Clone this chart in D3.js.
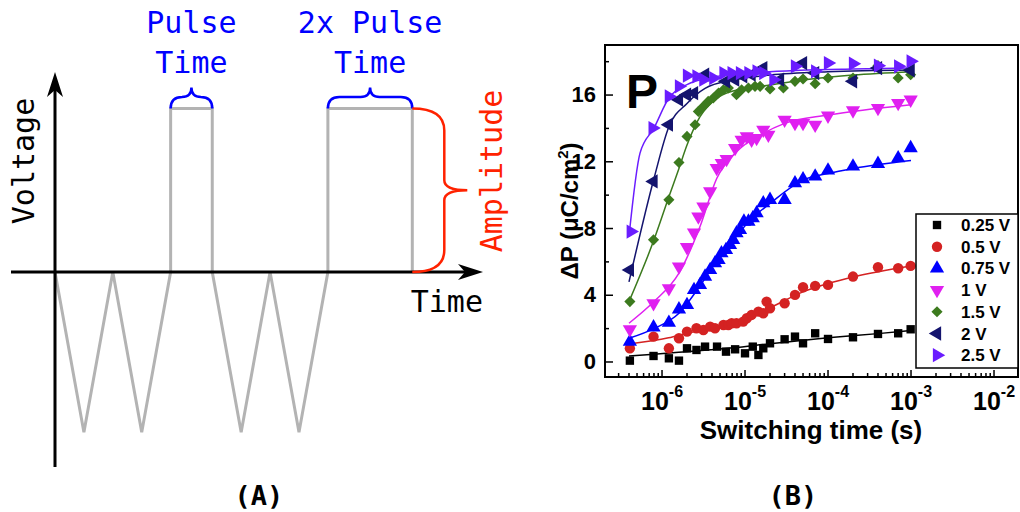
<!DOCTYPE html>
<html>
<head>
<meta charset="utf-8">
<script src="https://cdn.jsdelivr.net/npm/d3@7"></script>
<style>
body { margin:0; background:#fff }
svg { display:block }
</style>
</head>
<body>
<svg width="1020" height="512"></svg>
<script>
// panel A : the pulse train, abstract time units
var waveT = [0, 1, 2, 3, 4, 4, 5.44, 5.44, 6.44, 7.44, 8.44, 9.44, 9.44, 12.36, 12.36]
var waveV = [0, -0.98, 0, -0.98, 0, 1, 1, 0, -0.98, 0, -0.98, 0, 1, 1, 0]
var pulseSpans = [[4, 5.44], [9.44, 12.36]]
var pulseLabels = [["Pulse", "Time"], ["2x Pulse", "Time"]]

// panel B : switched polarization vs pulse time
var seriesNames = ["0.25 V", "0.5 V", "0.75 V", "1 V", "1.5 V", "2 V", "2.5 V"]
var xTickExps = [-6, -5, -4, -3, -2]
var yTicks = [0, 4, 8, 12, 16]
var yMinor = [2, 6, 10, 14, 18]

var pts025 = [[4.1e-7,0.08],[7.9e-7,0.36],[1.21e-6,0.22],[1.6e-6,0.08],[2.0e-6,0.82],[2.6e-6,0.72],[3.3e-6,0.92],[4.6e-6,0.92],[5.9e-6,0.62],[7.6e-6,0.76],[1.0e-5,0.52],[1.24e-5,0.92],[1.45e-5,0.42],[1.66e-5,0.82],[2.0e-5,1.12],[3.0e-5,1.36],[4.0e-5,1.52],[5.0e-5,1.12],[7.0e-5,1.72],[1.0e-4,1.38],[2.0e-4,1.48],[4.0e-4,1.68],[7.0e-4,1.72],[9.9e-4,1.96]]
var pts05 = [[4.1e-7,0.82],[7.9e-7,1.52],[1.21e-6,0.82],[1.6e-6,1.42],[2.0e-6,1.82],[2.6e-6,2.02],[3.15e-6,1.92],[3.8e-6,2.12],[4.35e-6,2.02],[5.5e-6,2.22],[6.3e-6,2.22],[6.9e-6,2.32],[7.9e-6,2.32],[9.5e-6,2.42],[1.05e-5,2.62],[1.2e-5,2.82],[1.45e-5,3.02],[1.66e-5,2.92],[1.82e-5,3.62],[2.0e-5,3.22],[3.0e-5,3.52],[4.0e-5,4.02],[5.0e-5,4.48],[7.0e-5,4.56],[1.0e-4,4.62],[2.0e-4,5.12],[4.0e-4,5.68],[7.0e-4,5.62],[9.9e-4,5.76]]
var pts075 = [[4.1e-7,1.22],[7.9e-7,2.08],[1.21e-6,2.36],[1.6e-6,3.16],[2.0e-6,3.42],[2.43e-6,4.32],[2.87e-6,4.62],[3.3e-6,5.12],[3.8e-6,5.52],[4.35e-6,5.92],[4.8e-6,6.12],[5.2e-6,6.52],[5.9e-6,6.72],[6.6e-6,7.02],[7.2e-6,7.32],[7.9e-6,7.72],[8.7e-6,7.92],[9.7e-6,8.42],[1.1e-5,8.42],[1.24e-5,8.62],[1.38e-5,8.92],[1.66e-5,9.52],[2.0e-5,9.72],[3.0e-5,9.72],[4.0e-5,10.72],[5.0e-5,10.96],[7.0e-5,11.12],[1.0e-4,11.48],[2.0e-4,11.72],[4.0e-4,11.88],[7.0e-4,12.22],[9.9e-4,12.82]]
var pts1 = [[4.1e-7,1.96],[7.9e-7,3.52],[1.21e-6,4.42],[1.6e-6,5.72],[2.0e-6,6.88],[2.43e-6,7.76],[2.74e-6,8.72],[3.15e-6,9.32],[3.8e-6,10.22],[4.56e-6,11.62],[5.24e-6,11.92],[6.0e-6,12.16],[7.6e-6,12.82],[9.1e-6,13.32],[1.05e-5,13.52],[1.2e-5,13.32],[1.38e-5,13.42],[1.66e-5,13.92],[1.91e-5,13.62],[3.0e-5,14.52],[4.0e-5,14.32],[5.0e-5,14.32],[7.0e-5,14.22],[1.0e-4,14.76],[2.0e-4,15.08],[4.0e-4,15.22],[7.0e-4,15.52],[9.9e-4,15.72]]
var pts15 = [[4.1e-7,3.62],[7.9e-7,7.32],[1.21e-6,9.72],[1.6e-6,11.96],[2.0e-6,13.52],[2.5e-6,14.22],[2.74e-6,15.02],[3.15e-6,15.32],[3.6e-6,15.62],[4.15e-6,15.82],[4.8e-6,16.12],[5.5e-6,16.32],[6.3e-6,16.42],[7.9e-6,16.02],[9.1e-6,16.32],[1.1e-5,16.42],[1.32e-5,16.52],[1.52e-5,16.52],[2.0e-5,16.36],[2.9e-5,16.42],[4.0e-5,16.82],[5.0e-5,16.96],[7.0e-5,16.68],[1.0e-4,17.02],[2.0e-4,17.02],[4.0e-4,17.76],[7.0e-4,17.02],[9.9e-4,17.22]]
var pts2 = [[4.1e-7,5.52],[7.9e-7,10.82],[1.21e-6,14.22],[1.6e-6,15.72],[2.0e-6,16.02],[2.43e-6,16.12],[3.3e-6,17.22],[5.9e-6,16.82],[7.6e-6,16.92],[9.5e-6,17.12],[1.2e-5,17.22],[1.66e-5,17.62],[2.64e-5,16.92],[5.0e-5,17.92],[7.0e-5,17.32],[2.0e-4,16.82],[4.0e-4,17.62],[9.9e-4,17.48]]
var pts25 = [[4.2e-7,7.82],[7.7e-7,14.02],[1.21e-6,15.92],[1.6e-6,16.52],[2.0e-6,17.16],[2.6e-6,17.12],[3.15e-6,16.92],[4.15e-6,17.02],[5.5e-6,17.32],[6.9e-6,17.32],[8.7e-6,17.32],[1.1e-5,17.32],[1.38e-5,17.42],[1.66e-5,17.32],[2.2e-5,16.92],[4.0e-5,17.72],[7.0e-5,17.42],[1.0e-4,17.92],[2.0e-4,17.88],[4.0e-4,17.76],[7.0e-4,17.72],[9.9e-4,18.02]]

var fit025 = [[4.0e-7,0.36],[8e-7,0.46],[2e-6,0.62],[7.2e-6,0.85],[2e-5,1.1],[1e-4,1.45],[4e-4,1.7],[1e-3,1.88]]
var fit05 = [[4.0e-7,1.08],[1.2e-6,1.45],[2e-6,1.72],[7.2e-6,2.32],[2e-5,3.25],[5e-5,4.2],[1e-4,4.7],[2e-4,5.1],[1e-3,5.76]]
var fit075 = [[4.0e-7,1.42],[8e-7,2.0],[1.6e-6,2.92],[2.9e-6,4.6],[4.6e-6,6.1],[7.2e-6,7.3],[1.15e-5,8.5],[2e-5,9.5],[5e-5,10.9],[1e-4,11.3],[2e-4,11.6],[1e-3,12.08]]
var fit1 = [[4.0e-7,2.32],[8e-7,3.62],[1.6e-6,5.32],[2.87e-6,8.12],[4.56e-6,11.0],[7.9e-6,12.6],[1.66e-5,13.7],[3e-5,14.3],[1e-4,14.8],[1e-3,15.42]]
var fit15 = [[4.0e-7,3.62],[8e-7,7.32],[1.21e-6,9.9],[1.6e-6,11.6],[2e-6,13.0],[2.87e-6,14.7],[4.56e-6,15.8],[7.94e-6,16.3],[2e-5,16.6],[5e-5,16.9],[2e-4,17.2],[1e-3,17.4]]
var fit2 = [[4.0e-7,4.8],[8e-7,11.0],[1.21e-6,14.1],[2e-6,15.5],[3.3e-6,16.4],[7.2e-6,16.9],[2e-5,17.2],[1e-4,17.4],[1e-3,17.5]]
var fit25 = [[4.0e-7,7.52],[5.43e-7,12.52],[8e-7,14.02],[1.21e-6,15.82],[2e-6,16.62],[4.15e-6,17.08],[1.15e-5,17.32],[4.6e-5,17.48],[2e-4,17.56],[1e-3,17.62]]

var allPts = [pts025, pts05, pts075, pts1, pts15, pts2, pts25]
var allFits = [fit025, fit05, fit075, fit1, fit15, fit2, fit25]

// styles
var colors = ["#000000", "#d42222", "#0000ff", "#e020f0", "#3c7a1e", "#14146e", "#6a1cff"]
var shapes = ["square", "circle", "up", "down", "diamond", "left", "right"]

var svg = d3.select("svg")
var mono = "'DejaVu Sans Mono', monospace"
var sans = "'Liberation Sans', Arial, sans-serif"

// ================= panel A
var xA = d3.scaleLinear().domain([0, 12.36]).range([55, 412.3])
var yA = d3.scaleLinear().domain([-1, 1]).range([435.5, 108.5])
var gA = svg.append("g")

gA.append("path")
    .attr("d", d3.line().x(function(d, i) { return xA(d) }).y(function(d, i) { return yA(waveV[i]) })(waveT))
    .attr("fill", "none").attr("stroke", "#b3b3b3").attr("stroke-width", 3)

// axes with arrow heads
gA.append("line").attr("x1", 11).attr("y1", yA(0)).attr("x2", 476).attr("y2", yA(0))
    .attr("stroke", "#000").attr("stroke-width", 3)
gA.append("line").attr("x1", xA(0)).attr("y1", 467).attr("x2", xA(0)).attr("y2", 80)
    .attr("stroke", "#000").attr("stroke-width", 3)
gA.append("path").attr("d", "M483," + yA(0) + " L458," + (yA(0) - 8) + " L465," + yA(0) + " L458," + (yA(0) + 8) + " Z")
gA.append("path").attr("d", "M" + xA(0) + ",72 L" + (xA(0) - 8) + ",97 L" + xA(0) + ",90 L" + (xA(0) + 8) + ",97 Z")

function hBrace(xa, xb, y0, d1, d2) {
    var m = (xa + xb) / 2, yb = y0 - d1, yt = y0 - d2, r = d2 - d1
    return "M" + xa + "," + y0 + " Q" + xa + "," + yb + " " + (xa + d1) + "," + yb +
        " L" + (m - r) + "," + yb + " Q" + m + "," + yb + " " + m + "," + yt +
        " Q" + m + "," + yb + " " + (m + r) + "," + yb +
        " L" + (xb - d1) + "," + yb + " Q" + xb + "," + yb + " " + xb + "," + y0
}
function vBrace(x0, ya, yb, d1, d2, r1, r2) {
    var m = (ya + yb) / 2, xa = x0 + d1
    return "M" + x0 + "," + ya + " Q" + xa + "," + ya + " " + xa + "," + (ya + r1) +
        " L" + xa + "," + (m - r2) + " Q" + xa + "," + m + " " + (x0 + d2) + "," + m +
        " Q" + xa + "," + m + " " + xa + "," + (m + r2) +
        " L" + xa + "," + (yb - r1) + " Q" + xa + "," + yb + " " + x0 + "," + yb
}

pulseSpans.forEach(function(s, i) {
    gA.append("path").attr("d", hBrace(xA(s[0]), xA(s[1]), yA(1), 11.5, 21))
        .attr("fill", "none").attr("stroke", "#0000ff").attr("stroke-width", 2.5)
    var cx = (xA(s[0]) + xA(s[1])) / 2
    pulseLabels[i].forEach(function(t, j) {
        gA.append("text").attr("x", cx).attr("y", 33 + j * 39.5)
            .attr("text-anchor", "middle").attr("font-family", mono).attr("font-size", 30)
            .attr("fill", "#0000ff").text(t)
    })
})
var lastSpan = pulseSpans[pulseSpans.length - 1]
gA.append("path").attr("d", vBrace(xA(lastSpan[1]), yA(1), yA(0), 32, 55, 22, 10))
    .attr("fill", "none").attr("stroke", "#ff2200").attr("stroke-width", 2.5)

gA.append("text").attr("transform", "translate(34,161) rotate(-90)")
    .attr("text-anchor", "middle").attr("font-family", mono).attr("font-size", 30).text("Voltage")
gA.append("text").attr("transform", "translate(502,171) rotate(-90)")
    .attr("text-anchor", "middle").attr("font-family", mono).attr("font-size", 30)
    .attr("fill", "#ff2200").text("Amplitude")
gA.append("text").attr("x", 483).attr("y", 312).attr("text-anchor", "end")
    .attr("font-family", mono).attr("font-size", 30).text("Time")
gA.append("text").attr("x", 259).attr("y", 505).attr("text-anchor", "middle")
    .attr("font-family", mono).attr("font-weight", "bold").attr("font-size", 27).text("(A)")

// ================= panel B
var L = 605, R = 1018, T = 45, B = 377
var x = d3.scaleLog().domain([Math.pow(10, -6.687), Math.pow(10, -1.711)]).range([L, R])
var y = d3.scaleLinear().domain([-0.9, 19]).range([B, T])
var gB = svg.append("g")

// inward ticks on left and bottom
var minorX = []
for (var e = -7; e <= -2; e++) for (var k = 1; k <= 9; k++) {
    var v = k * Math.pow(10, e)
    if (x(v) > L + 1 && x(v) < R - 1) minorX.push({ v: v, major: k == 1 })
}
minorX.forEach(function(t) {
    gB.append("line").attr("x1", x(t.v)).attr("x2", x(t.v))
        .attr("y1", B).attr("y2", B - (t.major ? 7 : 4)).attr("stroke", "#000").attr("stroke-width", 1.5)
})
yTicks.concat(yMinor).forEach(function(t) {
    var major = yTicks.indexOf(t) >= 0
    gB.append("line").attr("x1", L).attr("x2", L + (major ? 8 : 4))
        .attr("y1", y(t)).attr("y2", y(t)).attr("stroke", "#000").attr("stroke-width", 1.5)
})
yTicks.forEach(function(t) {
    gB.append("text").attr("x", L - 9).attr("y", y(t) + 7).attr("text-anchor", "end")
        .attr("font-family", sans).attr("font-weight", "bold").attr("font-size", 22).text(t)
})
xTickExps.forEach(function(ex) {
    var tx = gB.append("text").attr("x", x(Math.pow(10, ex))).attr("y", 410)
        .attr("text-anchor", "middle").attr("font-family", sans).attr("font-weight", "bold").attr("font-size", 25)
    tx.append("tspan").text("10")
    tx.append("tspan").attr("dy", -13).attr("font-size", 16).text(ex)
})

// fit lines and markers
var line = d3.line().x(function(d) { return x(d[0]) }).y(function(d) { return y(d[1]) }).curve(d3.curveMonotoneX)

function symbolPath(shape) {
    if (shape == "square") return d3.symbol().type(d3.symbolSquare).size(70)()
    if (shape == "circle") return d3.symbol().type(d3.symbolCircle).size(85)()
    if (shape == "diamond") return d3.symbol().type(d3.symbolSquare).size(62)()
    return d3.symbol().type(d3.symbolTriangle).size(88)()
}
var rot = { square: 0, circle: 0, diamond: 45, up: 0, down: 180, left: -90, right: 90 }

allFits.forEach(function(f, i) {
    gB.append("path").attr("d", line(f)).attr("fill", "none")
        .attr("stroke", colors[i]).attr("stroke-width", 1.5)
})
allPts.forEach(function(p, i) {
    gB.selectAll(null).data(p).enter().append("path")
        .attr("d", symbolPath(shapes[i]))
        .attr("transform", function(d) { return "translate(" + x(d[0]) + "," + y(d[1]) + ") rotate(" + rot[shapes[i]] + ")" })
        .attr("fill", colors[i])
})

// frame
gB.append("rect").attr("x", L).attr("y", T).attr("width", R - L).attr("height", B - T)
    .attr("fill", "none").attr("stroke", "#000").attr("stroke-width", 2)

// legend
var lg = gB.append("g")
lg.append("rect").attr("x", 916).attr("y", 214).attr("width", R - 916).attr("height", 154)
    .attr("fill", "#fff").attr("stroke", "#000").attr("stroke-width", 1.5)
seriesNames.forEach(function(n, i) {
    var ly = 225 + i * 21.7
    lg.append("path").attr("d", symbolPath(shapes[i]))
        .attr("transform", "translate(937," + ly + ") rotate(" + rot[shapes[i]] + ")").attr("fill", colors[i])
    lg.append("text").attr("x", 961).attr("y", ly + 6).attr("font-family", sans)
        .attr("font-weight", "bold").attr("font-size", 17).text(n)
})

gB.append("text").attr("x", 626).attr("y", 108).attr("font-family", sans)
    .attr("font-weight", "bold").attr("font-size", 48).text("P")

gB.append("text").attr("x", 811).attr("y", 439).attr("text-anchor", "middle")
    .attr("font-family", sans).attr("font-weight", "bold").attr("font-size", 26).text("Switching time (s)")

var yt = gB.append("text").attr("transform", "translate(578,211) rotate(-90)").attr("text-anchor", "middle")
    .attr("font-family", sans).attr("font-weight", "bold").attr("font-size", 24)
yt.append("tspan").text("ΔP (μC/cm")
yt.append("tspan").attr("dy", -10).attr("font-size", 15).text("2")
yt.append("tspan").attr("dy", 10).text(")")

gB.append("text").attr("x", 793).attr("y", 505).attr("text-anchor", "middle")
    .attr("font-family", mono).attr("font-weight", "bold").attr("font-size", 27).text("(B)")
</script>
</body>
</html>
